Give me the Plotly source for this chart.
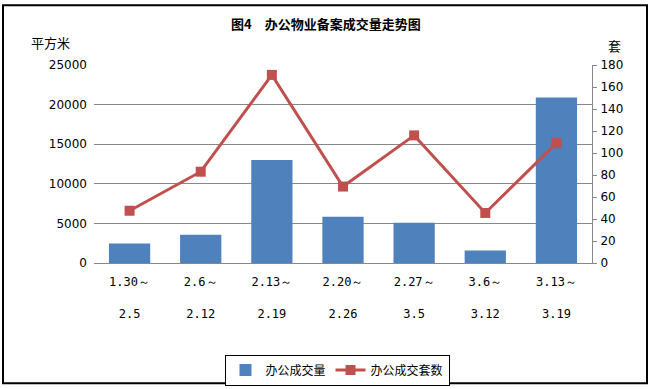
import plotly.graph_objects as go

categories = ["1.30～<br><br>2.5", "2.6～<br><br>2.12", "2.13～<br><br>2.19", "2.20～<br><br>2.26",
              "2.27～<br><br>3.5", "3.6～<br><br>3.12", "3.13～<br><br>3.19"]
area_values = [2450, 3580, 13000, 5840, 5090, 1570, 20900]
unit_values = [47.5, 83, 171, 69.5, 116, 45.5, 109]

W, H = 652, 389
L, R, T, B = 94, 592, 65, 263.5

def px(x):
    return (x - L) / (R - L)

def py(y):
    return (B - y) / (B - T)

FONT = "Noto Sans CJK SC"

fig = go.Figure()
fig.add_trace(go.Bar(x=categories, y=area_values, name="办公成交量",
                     marker=dict(color="#4F81BD", line=dict(width=0)), yaxis="y"))
fig.add_trace(go.Scatter(x=categories, y=unit_values, name="办公成交套数", yaxis="y2",
                         mode="lines+markers",
                         line=dict(color="#C0504D", width=3),
                         marker=dict(symbol="square", size=10, color="#C0504D")))

fig.update_layout(
    width=W, height=H,
    margin=dict(l=L, r=W - R, t=T, b=H - B, autoexpand=False),
    paper_bgcolor="white", plot_bgcolor="white",
    font=dict(family=FONT, size=12, color="black"),
    bargap=0.42,
    showlegend=True,
    legend=dict(orientation="h", xref="container", yref="container",
                x=337 / W, xanchor="center", y=(H - 370) / H, yanchor="middle",
                bordercolor="black", borderwidth=1, font=dict(size=12, family=FONT),
                itemwidth=30, tracegroupgap=0),
    xaxis=dict(showgrid=False, showline=True, linecolor="#888888", linewidth=1, automargin=False,
               ticks="", tickfont=dict(size=12, family="DejaVu Sans Mono"), ticklabelstandoff=8),
    yaxis=dict(range=[0, 25000], dtick=5000, tickformat="d", showgrid=True, gridcolor="#888888",
               gridwidth=1, automargin=False,
               showline=False, ticks="", zeroline=False, tickfont=dict(size=12, family="DejaVu Sans"),
               ticklabelstandoff=6),
    yaxis2=dict(range=[0, 180], dtick=20, overlaying="y", side="right", showgrid=False,
                automargin=False,
                showline=True, linecolor="#888888", linewidth=1, ticks="outside", ticklen=4,
                tickcolor="#888888", zeroline=False, tickfont=dict(size=12, family="DejaVu Sans"),
                ticklabelstandoff=1),
    annotations=[
        dict(text="<b>图4　办公物业备案成交量走势图</b>", xref="paper", yref="paper",
             x=px(326), y=py(23), xanchor="center", yanchor="middle", showarrow=False,
             font=dict(size=13, family=FONT)),
        dict(text="平方米", xref="paper", yref="paper", x=px(50), y=py(42),
             xanchor="center", yanchor="middle", showarrow=False, font=dict(size=13, family=FONT)),
        dict(text="套", xref="paper", yref="paper", x=px(614), y=py(45),
             xanchor="center", yanchor="middle", showarrow=False, font=dict(size=13, family=FONT)),
    ],
    shapes=[dict(type="rect", xref="paper", yref="paper",
                 x0=px(3), x1=px(647), y0=py(384), y1=py(5),
                 line=dict(color="black", width=2), fillcolor="rgba(0,0,0,0)", layer="below")],
)

fig.write_html("out.html", config={"displayModeBar": False})

with open("out.html", "r", encoding="utf-8") as f:
    html = f.read()
html = html.replace("<head>", "<head><style>html,body{margin:0;padding:0;overflow:hidden;}</style>", 1)
with open("out.html", "w", encoding="utf-8") as f:
    f.write(html)
